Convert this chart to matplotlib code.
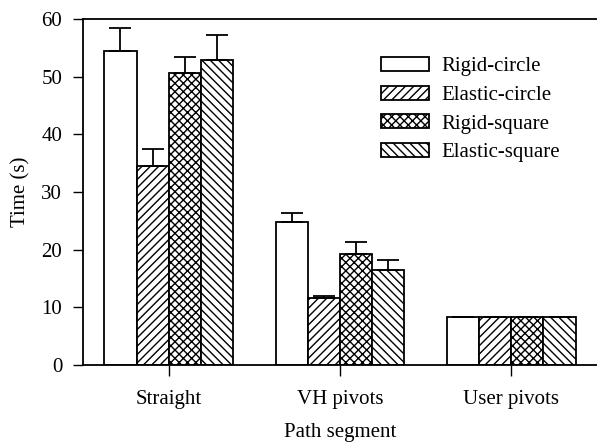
import numpy as np
import matplotlib.pyplot as plt

plt.rcParams['font.family'] = ['Liberation Serif', 'DejaVu Serif']
plt.rcParams['hatch.linewidth'] = 1.0

segments = ['Straight', 'VH pivots', 'User pivots']
series = ['Rigid-circle', 'Elastic-circle', 'Rigid-square', 'Elastic-square']
means = [
    [54.4, 24.8, 8.3],
    [34.5, 11.7, 8.3],
    [50.7, 19.3, 8.3],
    [52.9, 16.5, 8.3],
]
errs = [
    [4.1, 1.6, 0.0],
    [2.9, 0.2, 0.0],
    [2.7, 2.0, 0.0],
    [4.3, 1.7, 0.0],
]
hatches = ['', '////', 'xxxx', '\\\\\\\\']

fig = plt.figure(figsize=(5.97, 4.42), dpi=100)
ax = fig.add_axes([0.139, 0.174, 0.861, 0.783])

x = np.arange(len(segments))
w = 0.1875
for i in range(len(series)):
    pos = x + (i - 1.5) * w
    e = np.array(errs[i])
    ax.bar(pos, means[i], w, color='white', edgecolor='black', linewidth=1.3,
           hatch=hatches[i], label=series[i],
           yerr=[np.zeros_like(e), e],
           error_kw=dict(ecolor='black', elinewidth=1.3, capsize=8, capthick=1.3))

ax.set_xlim(-0.5, 2.5)
ax.set_ylim(0, 60)
ax.set_yticks(range(0, 61, 10))
ax.set_xticks(x)
ax.set_xticklabels(segments)
ax.tick_params(labelsize=15, direction='out', length=7, width=1)
ax.tick_params(axis='x', length=8, pad=10)
ax.tick_params(axis='y', pad=8)
ax.spines['right'].set_visible(False)
for s in ['left', 'bottom', 'top']:
    ax.spines[s].set_linewidth(1.3)
ax.set_xlabel('Path segment', fontsize=15, labelpad=10)
ax.set_ylabel('Time (s)', fontsize=15, labelpad=8)

ax.legend(loc='upper left', bbox_to_anchor=(0.58, 0.89), frameon=False,
          fontsize=15, handlelength=2.3, handleheight=0.65, labelspacing=0.45,
          handletextpad=0.6, borderpad=0, borderaxespad=0)

fig.savefig('out.png', dpi=100)
